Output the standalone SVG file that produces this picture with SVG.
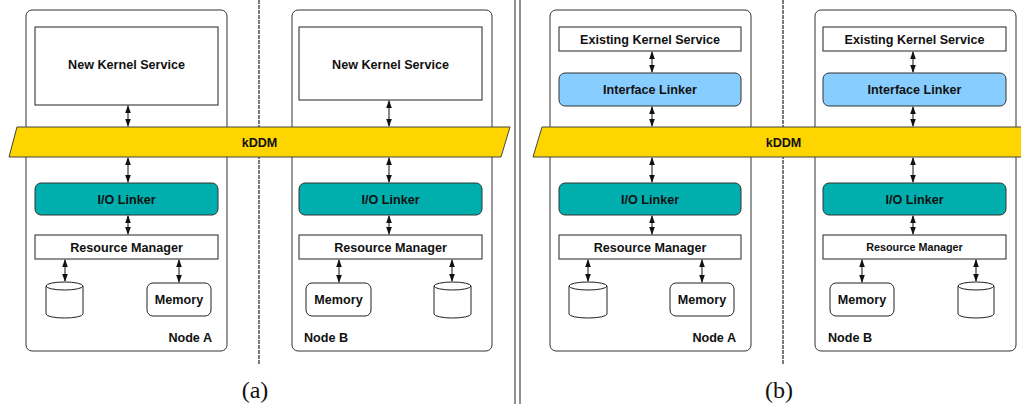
<svg xmlns="http://www.w3.org/2000/svg" width="1021" height="404" viewBox="0 0 1021 404">
<defs>
<marker id="ah" viewBox="0 0 8 8" refX="7" refY="4" markerWidth="8" markerHeight="8" markerUnits="userSpaceOnUse" orient="auto-start-reverse">
<path d="M0,1.2 L8,4 L0,6.8 z" fill="#111"/>
</marker>
<style>
.node{fill:#fff;stroke:#333;stroke-width:1}
.box{fill:#fff;stroke:#222;stroke-width:1}
.io{fill:#00AEAE;stroke:#333;stroke-width:1}
.il{fill:#88CDFF;stroke:#333;stroke-width:1}
.band{fill:#FFD500;stroke:#444;stroke-width:1}
.t{font-family:"Liberation Sans",Arial,sans-serif;font-weight:bold;font-size:12.6px;fill:#111;text-anchor:middle}
.ts{font-size:10.8px}
.cap{font-family:"Liberation Serif","Times New Roman",serif;font-size:24px;fill:#111;text-anchor:middle}
.ar{stroke:#111;stroke-width:1;fill:none;marker-start:url(#ah);marker-end:url(#ah)}
.cyl{fill:#fff;stroke:#222;stroke-width:1}
.sep{stroke:#222;stroke-width:1.2;stroke-dasharray:4,1}
.dbl{stroke:#555;stroke-width:1.3}
</style>
</defs>

<!-- separators -->
<g id="separators">
<line class="sep" x1="259" y1="0" x2="259" y2="364"/>
<line class="sep" x1="783" y1="0" x2="783" y2="364"/>
<line class="dbl" x1="515" y1="0" x2="515" y2="404"/>
<line class="dbl" x1="520" y1="0" x2="520" y2="404"/>
</g>

<!-- Panel (a) -->
<g id="a-nodeA">
<rect class="node" x="26" y="10" width="201" height="341" rx="6"/>
<text class="t" x="212" y="342" style="text-anchor:end">Node A</text>
</g>
<g id="a-nodeB">
<rect class="node" x="292" y="10" width="200" height="341" rx="6"/>
<text class="t" x="304" y="342" style="text-anchor:start">Node B</text>
</g>
<g id="a-A-nks">
<rect class="box" x="35" y="27" width="183" height="78"/>
<text class="t" x="126.5" y="69">New Kernel Service</text>
</g>
<g id="a-B-nks">
<rect class="box" x="299" y="27" width="183" height="73"/>
<text class="t" x="390.5" y="69">New Kernel Service</text>
</g>
<g id="a-kddm">
<polygon class="band" points="17,127 510,127 501,157 9,157"/>
<text class="t" x="259.5" y="146.5">kDDM</text>
</g>
<g id="a-A-io">
<rect class="io" x="35" y="183" width="183" height="32" rx="6"/>
<text class="t" x="126.5" y="203.5">I/O Linker</text>
</g>
<g id="a-B-io">
<rect class="io" x="299" y="183" width="183" height="32" rx="6"/>
<text class="t" x="390.5" y="203.5">I/O Linker</text>
</g>
<g id="a-A-rm">
<rect class="box" x="35" y="235" width="183" height="24"/>
<text class="t" x="126.5" y="251.5">Resource Manager</text>
</g>
<g id="a-B-rm">
<rect class="box" x="299" y="235" width="183" height="24"/>
<text class="t" x="390.5" y="251.5">Resource Manager</text>
</g>
<g id="a-A-disk">
<path class="cyl" d="M46,286 A18.5,4 0 0,1 83,286 V314 A18.5,4 0 0,1 46,314 Z"/>
<path class="cyl" d="M46,286 A18.5,4 0 0,0 83,286" fill="none"/>
</g>
<g id="a-A-mem">
<rect class="box" x="147" y="283" width="64" height="33" rx="6"/>
<text class="t" x="179" y="303.5">Memory</text>
</g>
<g id="a-B-mem">
<rect class="box" x="306" y="283" width="65" height="33" rx="6"/>
<text class="t" x="338.5" y="303.5">Memory</text>
</g>
<g id="a-B-disk">
<path class="cyl" d="M434,286 A18.5,4 0 0,1 471,286 V314 A18.5,4 0 0,1 434,314 Z"/>
<path class="cyl" d="M434,286 A18.5,4 0 0,0 471,286" fill="none"/>
</g>

<!-- Panel (b) -->
<g id="b-nodeA">
<rect class="node" x="550" y="10" width="201" height="341" rx="6"/>
<text class="t" x="736" y="342" style="text-anchor:end">Node A</text>
</g>
<g id="b-nodeB">
<rect class="node" x="815" y="10" width="201" height="341" rx="6"/>
<text class="t" x="828" y="342" style="text-anchor:start">Node B</text>
</g>
<g id="b-A-eks">
<rect class="box" x="559" y="27" width="182" height="24"/>
<text class="t" x="650" y="43.5">Existing Kernel Service</text>
</g>
<g id="b-B-eks">
<rect class="box" x="823" y="27" width="183" height="24"/>
<text class="t" x="914.5" y="43.5">Existing Kernel Service</text>
</g>
<g id="b-A-il">
<rect class="il" x="559" y="73" width="182" height="33" rx="6"/>
<text class="t" x="650" y="93.5">Interface Linker</text>
</g>
<g id="b-B-il">
<rect class="il" x="823" y="73" width="183" height="33" rx="6"/>
<text class="t" x="914.5" y="93.5">Interface Linker</text>
</g>
<g id="b-kddm">
<polygon class="band" points="542,127 1030,127 1030,157 533,157"/>
<text class="t" x="783.5" y="146.5">kDDM</text>
</g>
<g id="b-A-io">
<rect class="io" x="559" y="183" width="182" height="32" rx="6"/>
<text class="t" x="650" y="203.5">I/O Linker</text>
</g>
<g id="b-B-io">
<rect class="io" x="823" y="183" width="183" height="32" rx="6"/>
<text class="t" x="914.5" y="203.5">I/O Linker</text>
</g>
<g id="b-A-rm">
<rect class="box" x="559" y="235" width="182" height="24"/>
<text class="t" x="650" y="251.5">Resource Manager</text>
</g>
<g id="b-B-rm">
<rect class="box" x="823" y="235" width="183" height="24"/>
<text class="t ts" x="914.5" y="251">Resource Manager</text>
</g>
<g id="b-A-disk">
<path class="cyl" d="M569,286 A19,4 0 0,1 607,286 V314 A19,4 0 0,1 569,314 Z"/>
<path class="cyl" d="M569,286 A19,4 0 0,0 607,286" fill="none"/>
</g>
<g id="b-A-mem">
<rect class="box" x="670" y="283" width="64" height="33" rx="6"/>
<text class="t" x="702" y="303.5">Memory</text>
</g>
<g id="b-B-mem">
<rect class="box" x="830" y="283" width="64" height="33" rx="6"/>
<text class="t" x="862" y="303.5">Memory</text>
</g>
<g id="b-B-disk">
<path class="cyl" d="M958,286 A18,4 0 0,1 994,286 V314 A18,4 0 0,1 958,314 Z"/>
<path class="cyl" d="M958,286 A18,4 0 0,0 994,286" fill="none"/>
</g>

<!-- connectors -->
<g id="connectors">
<line class="ar" x1="128" y1="106" x2="128" y2="126"/>
<line class="ar" x1="128" y1="158" x2="128" y2="182"/>
<line class="ar" x1="128" y1="216" x2="128" y2="234"/>
<line class="ar" x1="65" y1="260" x2="65" y2="281"/>
<line class="ar" x1="179" y1="260" x2="179" y2="282"/>
<line class="ar" x1="389" y1="101" x2="389" y2="126"/>
<line class="ar" x1="389" y1="158" x2="389" y2="182"/>
<line class="ar" x1="389" y1="216" x2="389" y2="234"/>
<line class="ar" x1="339" y1="260" x2="339" y2="282"/>
<line class="ar" x1="452" y1="260" x2="452" y2="281"/>
<line class="ar" x1="652" y1="52" x2="652" y2="72"/>
<line class="ar" x1="652" y1="107" x2="652" y2="126"/>
<line class="ar" x1="652" y1="158" x2="652" y2="182"/>
<line class="ar" x1="652" y1="216" x2="652" y2="234"/>
<line class="ar" x1="588" y1="260" x2="588" y2="281"/>
<line class="ar" x1="702" y1="260" x2="702" y2="282"/>
<line class="ar" x1="913" y1="52" x2="913" y2="72"/>
<line class="ar" x1="913" y1="107" x2="913" y2="126"/>
<line class="ar" x1="913" y1="158" x2="913" y2="182"/>
<line class="ar" x1="913" y1="216" x2="913" y2="234"/>
<line class="ar" x1="862" y1="260" x2="862" y2="282"/>
<line class="ar" x1="976" y1="260" x2="976" y2="281"/>
</g>

<g id="captions">
<text class="cap" x="255" y="398">(a)</text>
<text class="cap" x="779" y="398">(b)</text>
</g>
</svg>
